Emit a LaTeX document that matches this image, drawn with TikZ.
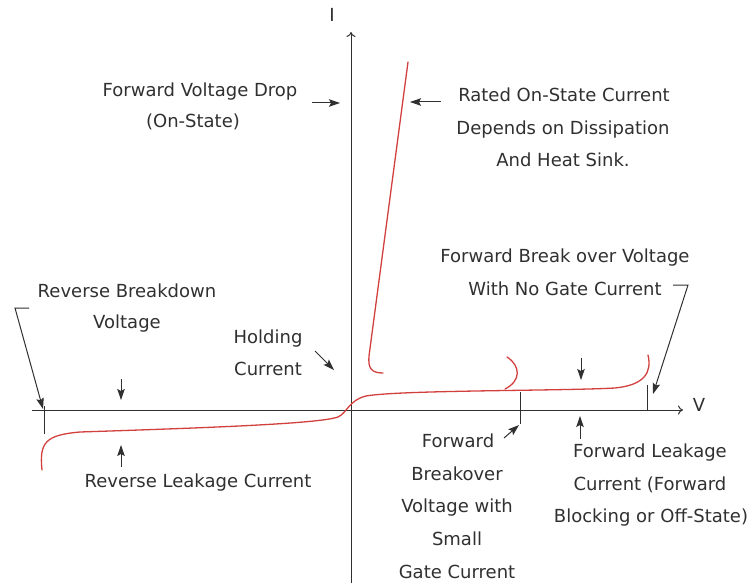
\documentclass[tikz,border=0pt]{standalone}
\usepackage{fontspec}
\setmainfont{DejaVu Sans}
\usetikzlibrary{arrows.meta}
\definecolor{ink}{HTML}{303030}
\definecolor{curvered}{HTML}{D2403E}
\begin{document}
\begin{tikzpicture}[x=1pt,y=-1pt,
  lbl/.style={font=\fontsize{18}{20}\selectfont, text=ink, anchor=base, inner sep=0pt},
  axis/.style={draw=ink, line width=1pt, -{To[length=5pt,width=9pt]}},
  pointer/.style={draw=ink, line width=1pt, -{Stealth[length=11pt,width=7.5pt,inset=2pt]}},
  markline/.style={draw=ink, line width=1pt},
  iv/.style={draw=curvered, line width=1.3pt, line cap=round}]
\useasboundingbox (0,0) rectangle (754,583);

% axes
\coordinate (vstart) at (32,410);
\coordinate (vend) at (683,410);
\coordinate (ibot) at (351,583);
\coordinate (itop) at (351,32);
\draw[axis] (vstart) -- (vend);
\draw[axis] (ibot) -- (itop);
\node[lbl] (ilabel) at (332,22) {I};
\node[lbl] (vlabel) at (699,411) {V};

% thyristor characteristic
\draw[iv] (42,470) .. controls (39,442) and (46,435) .. (80,432)
  .. controls (200,428) and (318,424) .. (338,417)
  .. controls (347,413) and (349,400) .. (366,396)
  .. controls (400,390) and (560,391) .. (615,388)
  .. controls (645,385) and (652,372) .. (648,355);
\draw[iv] (505,389) .. controls (521,381) and (521,366) .. (507,357);
\draw[iv] (383,373) .. controls (371,373) and (368,368) .. (369,356)
  -- (408,62);

% on-state labels
\node[lbl] (fvdA) at (200,97) {Forward Voltage Drop};
\node[lbl] (fvdB) at (193,128) {(On-State)};
\coordinate (fvdTip) at (340,103);
\coordinate (fvdTail) at (312,103);
\draw[pointer] (fvdTail) -- (fvdTip);

\node[lbl] (ratedA) at (564,102) {Rated On-State Current};
\node[lbl] (ratedB) at (563,134) {Depends on Dissipation};
\node[lbl] (ratedC) at (563,166) {And Heat Sink.};
\coordinate (ratedTail) at (441,102);
\coordinate (ratedTip) at (410,102);
\draw[pointer] (ratedTail) -- (ratedTip);

% forward breakover without gate current
\node[lbl] (fbA) at (565,262) {Forward Break over Voltage};
\node[lbl] (fbB) at (565,295) {With No Gate Current};
\coordinate (fbTick) at (647,385);
\coordinate (fbTickFoot) at (647,410);
\draw[markline] (fbTick) -- (fbTickFoot);
\coordinate (fbHook) at (673,285);
\coordinate (fbBend) at (688,285);
\coordinate (fbTip) at (653,394);
\draw[pointer] (fbHook) -- (fbBend) -- (fbTip);

% reverse breakdown
\node[lbl] (rbA) at (127,297) {Reverse Breakdown};
\node[lbl] (rbB) at (127,328) {Voltage};
\coordinate (rbTick) at (44,406);
\coordinate (rbTickFoot) at (44,434);
\draw[markline] (rbTick) -- (rbTickFoot);
\coordinate (rbHook) at (29,308);
\coordinate (rbBend) at (15,308);
\coordinate (rbTip) at (43,409);
\draw[pointer] (rbHook) -- (rbBend) -- (rbTip);

% reverse leakage
\coordinate (rlDownTail) at (121,379);
\coordinate (rlDownTip) at (121,400);
\draw[pointer] (rlDownTail) -- (rlDownTip);
\node[lbl] (rlc) at (198,487) {Reverse Leakage Current};
\coordinate (rlUpTail) at (121,467);
\coordinate (rlUpTip) at (121,445);
\draw[pointer] (rlUpTail) -- (rlUpTip);

% holding current
\node[lbl] (holdA) at (268,343) {Holding};
\node[lbl] (holdB) at (268,375) {Current};
\coordinate (holdTail) at (315,351);
\coordinate (holdTip) at (334,370);
\draw[pointer] (holdTail) -- (holdTip);

% forward breakover with small gate current
\coordinate (fsTick) at (520,392);
\coordinate (fsTickFoot) at (520,424);
\draw[markline] (fsTick) -- (fsTickFoot);
\coordinate (fsTail) at (504,438);
\coordinate (fsTip) at (519,425);
\draw[pointer] (fsTail) -- (fsTip);
\node[lbl] (fsA) at (458,447) {Forward};
\node[lbl] (fsB) at (457,480) {Breakover};
\node[lbl] (fsC) at (457,512) {Voltage with};
\node[lbl] (fsD) at (457,545) {Small};
\node[lbl] (fsE) at (457,578) {Gate Current};

% forward leakage
\coordinate (flDownTail) at (581,358);
\coordinate (flDownTip) at (581,380);
\draw[pointer] (flDownTail) -- (flDownTip);
\coordinate (flUpTail) at (580,439);
\coordinate (flUpTip) at (580,416);
\draw[pointer] (flUpTail) -- (flUpTip);
\node[lbl] (flA) at (650,457) {Forward Leakage};
\node[lbl] (flB) at (650,490) {Current (Forward};
\node[lbl] (flC) at (651,522) {Blocking or Off-State)};
\end{tikzpicture}
\end{document}
